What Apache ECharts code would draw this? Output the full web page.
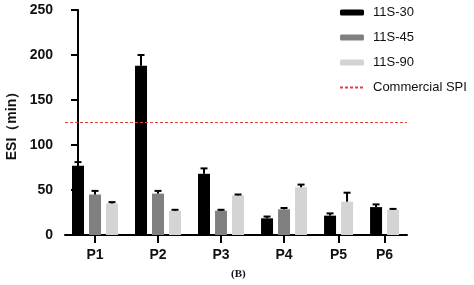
<!DOCTYPE html>
<html><head><meta charset="utf-8">
<script src="https://cdn.jsdelivr.net/npm/echarts@6/dist/echarts.min.js"></script>
<style>html,body{margin:0;padding:0;background:#fff}#c{width:474px;height:285px}</style>
</head><body><div id="c"></div>
<script>
var categories = ['P1','P2','P3','P4','P5','P6'];
var seriesNames = ['11S-30','11S-45','11S-90'];
var s30 = [77, 188, 68, 18.5, 21.5, 31];
var s30err = [4, 12, 6, 2, 2.5, 3];
var s45 = [45, 46, 27, 28.5, null, null];
var s45err = [4, 3, 1, 1.5, null, null];
var s90 = [35, 27, 44, 53, 37, 28];
var s90err = [1.5, 1, 1, 3, 10, 1];
var commercialSPI = 125;
var yTicks = [0, 50, 100, 150, 200, 250];

var values = [s30, s45, s90];
var errs = [s30err, s45err, s90err];
var colors = ['#000000', '#808080', '#d4d4d4'];
var GROUP_EXTRA = 0.706; // layout: extra space between groups (in bar steps)

var pos = [[], [], []];
var centers = [];
var p = 0;
for (var g = 0; g < categories.length; g++) {
  var first = null, last = null;
  for (var s = 0; s < 3; s++) {
    if (values[s][g] != null) {
      if (first === null) first = p; last = p;
      pos[s][g] = p; p += 1;
    } else pos[s][g] = null;
  }
  centers.push((first + last) / 2);
  p += GROUP_EXTRA;
}
var lastPos = p - GROUP_EXTRA - 1;

var series = [];
for (var s = 0; s < 3; s++) {
  var d = [];
  for (var g = 0; g < categories.length; g++) {
    if (values[s][g] != null) d.push([pos[s][g], values[s][g]]);
  }
  series.push({
    name: seriesNames[s], type: 'bar', data: d, barWidth: 12, barGap: '-100%',
    itemStyle: { color: colors[s] }, z: 2
  });
  var ed = [];
  for (var g = 0; g < categories.length; g++) {
    if (values[s][g] != null) ed.push([pos[s][g], values[s][g], values[s][g] + errs[s][g]]);
  }
  series.push({
    type: 'custom', data: ed, z: 3, silent: true,
    renderItem: function (params, api) {
      var x = api.value(0);
      var a = api.coord([x, api.value(1)]);
      var b = api.coord([x, api.value(2)]);
      return { type: 'group', children: [
        { type: 'line', shape: { x1: a[0], y1: a[1], x2: b[0], y2: b[1] }, style: { stroke: '#000', lineWidth: 2 } },
        { type: 'line', shape: { x1: b[0] - 3.5, y1: b[1], x2: b[0] + 3.5, y2: b[1] }, style: { stroke: '#000', lineWidth: 2 } }
      ]};
    }
  });
}
series.push({
  name: 'Commercial SPI', type: 'line', data: [], symbol: 'none', showSymbol: false,
  itemStyle: { color: '#e0413a', opacity: 0 },
  lineStyle: { color: '#e0413a', width: 1, type: [3, 2] },
  markLine: {
    silent: true, symbol: 'none', label: { show: false },
    lineStyle: { color: '#e0413a', width: 1, type: [3, 2], opacity: 1 },
    data: [{ yAxis: commercialSPI }]
  }
});

var chart = echarts.init(document.getElementById('c'), null, { renderer: 'canvas' });
chart.setOption({
  animation: false,
  backgroundColor: '#fff',
  grid: { left: 65, right: 67, top: 10, bottom: 50, containLabel: false, outerBoundsMode: 'none' },
  legend: {
    orient: 'vertical', left: 334, top: 1, itemWidth: 24, itemHeight: 6, itemGap: 12,
    data: ['11S-30', '11S-45', '11S-90', 'Commercial SPI'],
    textStyle: { fontFamily: 'Liberation Sans, Arial', fontSize: 13, color: '#111', padding: [0, 0, 0, 4] }
  },
  xAxis: {
    type: 'value', min: -0.765, max: lastPos + 0.82,
    splitLine: { show: false },
    axisLine: { show: true, lineStyle: { color: '#000', width: 2 } },
    axisTick: { show: true, customValues: centers, length: 8, lineStyle: { color: '#000', width: 2 } },
    axisLabel: {
      customValues: centers, margin: 13,
      fontFamily: 'Liberation Sans, Arial', fontWeight: 'bold', fontSize: 14, color: '#111',
      formatter: function (v) {
        for (var i = 0; i < centers.length; i++) if (Math.abs(centers[i] - v) < 0.01) return categories[i];
        return '';
      }
    }
  },
  yAxis: {
    type: 'value', min: yTicks[0], max: yTicks[yTicks.length - 1], interval: 50,
    name: 'ESI（min）', nameLocation: 'middle', nameGap: 45,
    nameTextStyle: { fontFamily: 'Liberation Sans, Arial', fontWeight: 'bold', fontSize: 14, color: '#111' },
    splitLine: { show: false },
    axisLine: { show: true, lineStyle: { color: '#000', width: 2 } },
    axisTick: { show: true, length: 7, lineStyle: { color: '#000', width: 2 } },
    axisLabel: { margin: 12, fontFamily: 'Liberation Sans, Arial', fontWeight: 'bold', fontSize: 14, color: '#111' }
  },
  graphic: [{
    type: 'text', left: 231, top: 269,
    style: { text: '(B)', font: 'bold 11px "Liberation Serif", "DejaVu Serif", serif', fill: '#111' }
  }],
  series: series
});
</script></body></html>
